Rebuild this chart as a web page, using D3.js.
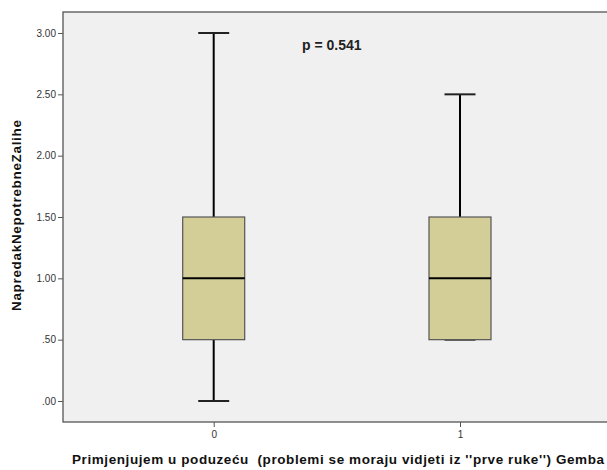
<!DOCTYPE html>
<html><head><meta charset="utf-8">
<script src="https://cdn.jsdelivr.net/npm/d3@7"></script>
<style>body{margin:0;background:#fff}svg{display:block;font-family:"Liberation Sans",Arial,sans-serif}</style>
</head><body><div id="c"></div>
<script>
const categories = ["0", "1"];
const mins = [0, 0.5];
const q1s = [0.5, 0.5];
const medians = [1, 1];
const q3s = [1.5, 1.5];
const maxs = [3, 2.5];
const yTicks = [0, 0.5, 1, 1.5, 2, 2.5, 3];
const yTickLabels = [".00", ".50", "1.00", "1.50", "2.00", "2.50", "3.00"];
const pText = "p = 0.541";
const xTitle = "Primjenjujem u poduzeću  (problemi se moraju vidjeti iz ''prve ruke'') Gemba";
const yTitle = "NapredakNepotrebneZalihe";

const W = 607, H = 470;
const L = 63, T = 12, R = 610, B = 422;
const svg = d3.select("#c").append("svg").attr("width", W).attr("height", H);

const x = d3.scaleLinear().domain([0, 1]).range([213.7, 460]);
const y = d3.scaleLinear().domain([0, 3]).range([401, 33]);

svg.append("rect").attr("x", L).attr("y", T).attr("width", R - L).attr("height", B - T)
  .attr("fill", "#f0f0f0").attr("stroke", "#555").attr("stroke-width", 1.3);

const ya = svg.append("g").attr("transform", `translate(${L},0)`)
  .call(d3.axisLeft(y).tickValues(yTicks).tickFormat((d, i) => yTickLabels[i]).tickSize(5).tickPadding(2));
ya.select(".domain").remove();
ya.selectAll("line").attr("stroke", "#555");
ya.selectAll("text").attr("font-size", 10).attr("fill", "#333").attr("font-family", "Liberation Sans, Arial, sans-serif");

const xa = svg.append("g").attr("transform", `translate(0,${B})`)
  .call(d3.axisBottom(x).tickValues([0, 1]).tickFormat((d, i) => categories[i]).tickSize(5).tickPadding(4));
xa.select(".domain").remove();
xa.selectAll("line").attr("stroke", "#555");
xa.selectAll("text").attr("font-size", 10).attr("fill", "#333").attr("font-family", "Liberation Sans, Arial, sans-serif");

const bw = 62, cw = 31;
categories.forEach((c, i) => {
  const cx = x(i);
  const g = svg.append("g");
  g.append("line").attr("x1", cx).attr("x2", cx).attr("y1", y(maxs[i])).attr("y2", y(q3s[i])).attr("stroke", "#000").attr("stroke-width", 2);
  g.append("line").attr("x1", cx).attr("x2", cx).attr("y1", y(q1s[i])).attr("y2", y(mins[i])).attr("stroke", "#000").attr("stroke-width", 2);
  g.append("line").attr("x1", cx - cw / 2).attr("x2", cx + cw / 2).attr("y1", y(maxs[i])).attr("y2", y(maxs[i])).attr("stroke", "#222").attr("stroke-width", 2);
  g.append("line").attr("x1", cx - cw / 2).attr("x2", cx + cw / 2).attr("y1", y(mins[i])).attr("y2", y(mins[i])).attr("stroke", "#222").attr("stroke-width", 2);
  g.append("rect").attr("x", cx - bw / 2).attr("y", y(q3s[i])).attr("width", bw).attr("height", y(q1s[i]) - y(q3s[i]))
    .attr("fill", "#d3ce97").attr("stroke", "#555").attr("stroke-width", 1.2);
  g.append("line").attr("x1", cx - bw / 2).attr("x2", cx + bw / 2).attr("y1", y(medians[i])).attr("y2", y(medians[i])).attr("stroke", "#000").attr("stroke-width", 2);
});

svg.append("text").attr("x", 302).attr("y", 50).attr("font-size", 14).attr("font-weight", "bold").attr("fill", "#222").text(pText);

svg.append("text").attr("x", 72).attr("y", 464).attr("font-size", 13.5)
  .attr("textLength", 532).attr("lengthAdjust", "spacing")
  .attr("font-weight", "bold").attr("fill", "#111").attr("xml:space", "preserve").style("white-space", "pre").text(xTitle);

svg.append("text").attr("transform", `translate(21,311) rotate(-90)`)
  .attr("font-size", 13.5).attr("textLength", 191).attr("lengthAdjust", "spacing")
  .attr("font-weight", "bold").attr("fill", "#111").text(yTitle);
</script></body></html>
